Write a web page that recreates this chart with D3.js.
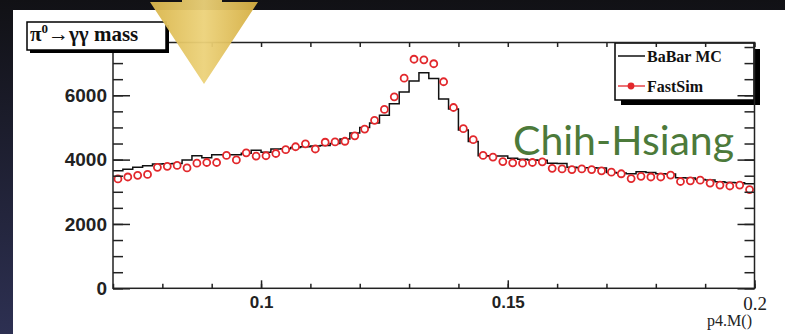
<!DOCTYPE html>
<html>
<head>
<meta charset="utf-8">
<script src="https://cdn.jsdelivr.net/npm/d3@7"></script>
<style>
  html, body { margin: 0; padding: 0; background: #15161c; }
  svg { display: block; }
</style>
</head>
<body>
<svg id="chart" width="785" height="334"></svg>
<script>
// pi0 -> gamma gamma invariant mass, 65 bins of 0.002 from 0.07 to 0.2
const binLow = 0.07;
const binWidth = 0.002;

const babarMC = [
  3650, 3700, 3760, 3810, 3860, 3870, 3880, 3990, 4120, 4060,
  4150, 4150, 4150, 4200, 4290, 4230, 4330, 4340, 4380, 4400,
  4420, 4440, 4500, 4640, 4830, 5000, 5140, 5380, 5740, 6100,
  6440, 6700, 6520, 5880, 5570, 4920, 4560, 4120, 4110, 4110,
  4040, 4010, 3990, 3980, 3890, 3880, 3760, 3750, 3750, 3740,
  3600, 3580, 3560, 3620, 3600, 3560, 3550, 3440, 3430, 3380,
  3370, 3310, 3290, 3280, 3250
];

const fastSim = [
  3400, 3460, 3510, 3540, 3760, 3790, 3820, 3740, 3890, 3910,
  3910, 4130, 3990, 4210, 4110, 4120, 4190, 4310, 4400, 4490,
  4330, 4540, 4550, 4570, 4740, 4950, 5220, 5560, 5950, 6530,
  7120, 7100, 6980, 6420, 5620, 4960, 4620, 4130, 4080, 3940,
  3900, 3890, 3910, 3930, 3730, 3710, 3690, 3710, 3690, 3650,
  3610, 3560, 3410, 3480, 3460, 3460, 3520, 3320, 3340, 3360,
  3270, 3210, 3180, 3210, 3070
];

const yTicks = [0, 2000, 4000, 6000];
const yTickLabels = ["0", "2000", "4000", "6000"];
const xTicks = [0.1, 0.15, 0.2];
const xTickLabels = ["0.1", "0.15", "0.2"];
const seriesNames = ["BaBar MC", "FastSim"];
const xAxisTitle = "p4.M()";
const presenter = "Chih-Hsiang";

const svg = d3.select("#chart");
const W = 785, H = 334;

// slide background and white content panel
const defs = svg.append("defs");
const bg = defs.append("linearGradient").attr("id", "slideBg")
  .attr("x1", 0).attr("y1", 0).attr("x2", 0).attr("y2", 1);
bg.append("stop").attr("offset", "0%").attr("stop-color", "#111115");
bg.append("stop").attr("offset", "100%").attr("stop-color", "#2d3052");
svg.append("rect").attr("width", W).attr("height", H).attr("fill", "url(#slideBg)");
svg.append("rect").attr("x", 13).attr("y", 10).attr("width", W - 13).attr("height", H - 10)
  .attr("fill", "#ffffff");

// scales
const x = d3.scaleLinear().domain([0.07, 0.2]).range([113, 754.5]);
const y = d3.scaleLinear().domain([0, 7640]).range([288.3, 42.5]);

// BaBar MC histogram as a step line
const stepPts = babarMC.map((v, i) => [binLow + i * binWidth, v]);
stepPts.push([binLow + babarMC.length * binWidth, babarMC[babarMC.length - 1]]);
const stepLine = d3.line().x(d => x(d[0])).y(d => y(d[1])).curve(d3.curveStepAfter);
svg.append("path").datum(stepPts)
  .attr("d", stepLine)
  .attr("fill", "none").attr("stroke", "#111").attr("stroke-width", 1.5);

// FastSim open circle markers at bin centres
svg.append("g").selectAll("circle").data(fastSim).join("circle")
  .attr("cx", (d, i) => x(binLow + (i + 0.5) * binWidth))
  .attr("cy", d => y(d))
  .attr("r", 3.5)
  .attr("fill", "#fff")
  .attr("stroke", "#e2282c")
  .attr("stroke-width", 1.8);

// legend with drop shadow
const leg = svg.append("g");
leg.append("rect").attr("x", 621).attr("y", 49).attr("width", 139).attr("height", 56).attr("fill", "#000");
leg.append("rect").attr("x", 615).attr("y", 43).attr("width", 139).attr("height", 57)
  .attr("fill", "#fff").attr("stroke", "#000").attr("stroke-width", 1.5);
leg.append("line").attr("x1", 618).attr("x2", 645).attr("y1", 56).attr("y2", 56)
  .attr("stroke", "#111").attr("stroke-width", 1.5);
leg.append("line").attr("x1", 618).attr("x2", 645).attr("y1", 86).attr("y2", 86)
  .attr("stroke", "#e2282c").attr("stroke-width", 1.3);
leg.append("circle").attr("cx", 631).attr("cy", 86).attr("r", 3.4).attr("fill", "#e2282c");
leg.selectAll("text").data(seriesNames).join("text")
  .attr("x", 647).attr("y", (d, i) => i === 0 ? 62 : 92)
  .attr("font-family", "Liberation Serif, serif").attr("font-size", 16).attr("font-weight", "bold")
  .attr("fill", "#111").text(d => d);

// frame
svg.append("rect").attr("x", x.range()[0]).attr("y", y.range()[1])
  .attr("width", x.range()[1] - x.range()[0]).attr("height", y.range()[0] - y.range()[1])
  .attr("fill", "none").attr("stroke", "#222").attr("stroke-width", 1.5);

function styleAxis(g) {
  g.select(".domain").remove();
  g.selectAll(".tick line").attr("stroke", "#222").attr("stroke-width", 1.5);
}
const yMinor = d3.range(0, 7640, 500);
const xMinor = d3.range(0.07, 0.2001, 0.01);

// left axis: minor + major ticks pointing inward
svg.append("g").attr("transform", `translate(${x.range()[0]},0)`)
  .call(d3.axisRight(y).tickValues(yMinor).tickSize(10).tickFormat(""))
  .call(styleAxis);
svg.append("g").attr("transform", `translate(${x.range()[0]},0)`)
  .call(d3.axisRight(y).tickValues(yTicks).tickSize(17).tickFormat(""))
  .call(styleAxis);
svg.append("g").attr("transform", `translate(${x.range()[0] - 6},0)`)
  .call(d3.axisLeft(y).tickValues(yTicks).tickSize(0).tickPadding(0)
    .tickFormat((d, i) => yTickLabels[i]))
  .call(g => g.select(".domain").remove())
  .call(g => g.selectAll("text").attr("font-family", "Liberation Sans, Arial, sans-serif")
    .attr("font-size", 19).attr("font-weight", "bold").attr("fill", "#222"));

// right axis ticks
svg.append("g").attr("transform", `translate(${x.range()[1]},0)`)
  .call(d3.axisLeft(y).tickValues(yMinor).tickSize(10).tickFormat(""))
  .call(styleAxis);
svg.append("g").attr("transform", `translate(${x.range()[1]},0)`)
  .call(d3.axisLeft(y).tickValues(yTicks).tickSize(17).tickFormat(""))
  .call(styleAxis);

// bottom and top ticks
svg.append("g").attr("transform", `translate(0,${y.range()[0]})`)
  .call(d3.axisTop(x).tickValues(xMinor).tickSize(4.5).tickFormat(""))
  .call(styleAxis);
svg.append("g").attr("transform", `translate(0,${y.range()[0]})`)
  .call(d3.axisTop(x).tickValues(xTicks).tickSize(8).tickFormat(""))
  .call(styleAxis);
svg.append("g").attr("transform", `translate(0,${y.range()[1]})`)
  .call(d3.axisBottom(x).tickValues(xMinor).tickSize(4.5).tickFormat(""))
  .call(styleAxis);

// x tick labels
svg.append("g").attr("transform", `translate(0,${y.range()[0]})`)
  .call(d3.axisBottom(x).tickValues(xTicks).tickSize(0).tickPadding(8)
    .tickFormat((d, i) => xTickLabels[i]))
  .call(g => g.select(".domain").remove())
  .call(g => g.selectAll("text")
    .attr("font-family", (d, i) => i === 2 ? "Liberation Serif, serif" : "Liberation Sans, Arial, sans-serif")
    .attr("font-size", (d, i) => i === 2 ? 19 : 17)
    .attr("font-weight", (d, i) => i === 2 ? "normal" : "bold")
    .attr("fill", "#222"));

// x axis title
svg.append("text").attr("x", 752).attr("y", 326).attr("text-anchor", "end")
  .attr("font-family", "Liberation Serif, serif").attr("font-size", 16)
  .attr("fill", "#222").text(xAxisTitle);

// histogram title box
svg.append("rect").attr("x", 30).attr("y", 25).attr("width", 139).attr("height", 28).attr("fill", "#000");
svg.append("rect").attr("x", 27).attr("y", 22).attr("width", 139).attr("height", 28)
  .attr("fill", "#fff").attr("stroke", "#000").attr("stroke-width", 1.5);
const tt = svg.append("text").attr("x", 30).attr("y", 41)
  .attr("font-family", "Liberation Serif, serif").attr("font-size", 21).attr("font-weight", "bold")
  .attr("fill", "#111");
tt.append("tspan").text("\u03c0");
tt.append("tspan").attr("dy", -8).attr("font-size", 13).text("0");
tt.append("tspan").attr("dy", 8).text("\u2192");
tt.append("tspan").text("\u03b3\u03b3 mass");

// presenter name
svg.append("text").attr("x", 513).attr("y", 155)
  .attr("font-family", "Lato, sans-serif").attr("font-size", 41)
  .attr("fill", "#4c7a3a").text(presenter);

// downward pointer
const gold = defs.append("linearGradient").attr("id", "gold")
  .attr("x1", 0).attr("y1", 0).attr("x2", 1).attr("y2", 0);
gold.append("stop").attr("offset", "0%").attr("stop-color", "#d9b54a");
gold.append("stop").attr("offset", "50%").attr("stop-color", "#ecd27a");
gold.append("stop").attr("offset", "100%").attr("stop-color", "#d4ad40");
svg.append("path")
  .attr("d", "M182,-10 L222,-10 L222,2 L258,2 L204,84 L150,2 L182,2 Z")
  .attr("fill", "url(#gold)").attr("opacity", 0.95);
</script>
</body>
</html>
